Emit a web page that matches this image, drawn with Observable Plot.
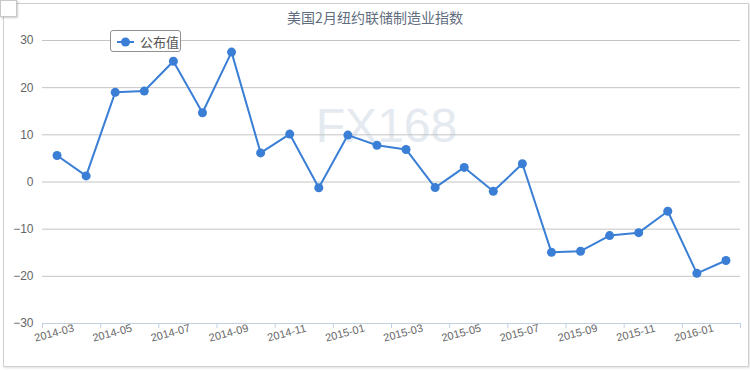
<!DOCTYPE html>
<html><head><meta charset="utf-8">
<script src="https://cdn.jsdelivr.net/npm/d3@7"></script>
<script src="https://cdn.jsdelivr.net/npm/@observablehq/plot@0.6"></script>
<style>
body{margin:0;background:#fff;font-family:"Liberation Sans",Arial,sans-serif}
#wrap{position:relative;width:750px;height:370px;overflow:hidden;background:#fff}
#frame{position:absolute;left:3px;top:3px;width:744px;height:362px;border:1px solid #d0d0d0;box-shadow:1px 1px 2px rgba(0,0,0,0.12)}
#corner{position:absolute;left:0;top:0;width:15px;height:15px;border:1px solid #c8c8c8;background:#fff;box-shadow:1px 1px 2px rgba(0,0,0,0.2)}
#chart{position:absolute;left:0;top:0}
#title{position:absolute;left:0;width:750px;top:9px;text-align:center;font-size:14px;color:#5f6d7e;font-family:"Noto Sans CJK SC","Liberation Sans",sans-serif;line-height:16px}
#legend{position:absolute;left:110px;top:30px;width:71px;height:22px;border:1px solid #909090;border-radius:3px;background:#fff;box-sizing:border-box}
#legend svg{position:absolute;left:6px;top:5px}
#legend span{position:absolute;left:29px;top:2px;font-size:13px;color:#555;font-family:"Noto Sans CJK SC",sans-serif;line-height:17px}
</style></head>
<body><div id="wrap"><div id="frame"></div><div id="chart"></div><div id="corner"></div><div id="title"></div><div id="legend"></div></div>
<script>
const months = ["2014-03","2014-04","2014-05","2014-06","2014-07","2014-08","2014-09","2014-10","2014-11","2014-12",
  "2015-01","2015-02","2015-03","2015-04","2015-05","2015-06","2015-07","2015-08","2015-09","2015-10","2015-11","2015-12",
  "2016-01","2016-02"];
const values = [5.61,1.29,19.01,19.28,25.6,14.69,27.54,6.17,10.16,-1.23,
  9.95,7.78,6.9,-1.19,3.09,-1.98,3.86,-14.92,-14.67,-11.36,-10.74,-6.21,
  -19.37,-16.64];
const yTicks = [-30,-20,-10,0,10,20,30];
const seriesName = "公布值";
const titleText = "美国2月纽约联储制造业指数";
const watermark = "FX168";
const color = "#3a7fd5";

const data = months.map((m, i) => ({i, m, v: values[i]}));
const labelIdx = months.map((m, i) => i).filter(i => i % 2 === 0);
const boundaries = d3.range(0, months.length + 1, 2).map(k => k - 0.5);

const chart = Plot.plot({
  width: 750, height: 370,
  marginTop: 40, marginBottom: 47, marginLeft: 42, marginRight: 10,
  style: {fontFamily: "Liberation Sans, Arial, sans-serif", fontSize: "11px", background: "transparent"},
  x: {type: "linear", domain: [-0.5, months.length - 0.5], axis: null, label: null},
  y: {domain: [yTicks[0], yTicks[yTicks.length - 1]], axis: null, label: null},
  marks: [
    Plot.text([watermark], {frameAnchor: "top", dy: 86, dx: -5, text: d => d, fontSize: 48, fill: "#e4eaf0", lineAnchor: "middle", textAnchor: "middle"}),
    Plot.gridY(yTicks, {stroke: "#c4c4c4", strokeOpacity: 1}),
    Plot.axisY(yTicks, {tickSize: 0, tickPadding: 9, fill: "#666", fontSize: 12, label: null}),
    Plot.ruleY([yTicks[0]], {stroke: "#c0d0e0"}),
    Plot.axisX(boundaries, {tickSize: 5, tickFormat: () => "", stroke: "#c0d0e0", label: null}),
    Plot.text(labelIdx, {x: d => d, frameAnchor: "bottom", dy: 13, dx: -2, rotate: -15, text: d => months[d], fill: "#666", fontSize: 11, textAnchor: "middle"}),
    Plot.line(data, {x: "i", y: "v", stroke: color, strokeWidth: 2}),
    Plot.dot(data, {x: "i", y: "v", r: 4.5, fill: color, stroke: "none"})
  ]
});
document.getElementById("chart").appendChild(chart);
document.getElementById("title").textContent = titleText;
const lg = document.getElementById("legend");
lg.innerHTML = `<svg width="18" height="12"><line x1="0" y1="6" x2="17" y2="6" stroke="${color}" stroke-width="2"/><circle cx="8.5" cy="6" r="4.5" fill="${color}"/></svg><span>${seriesName}</span>`;
</script></body></html>
